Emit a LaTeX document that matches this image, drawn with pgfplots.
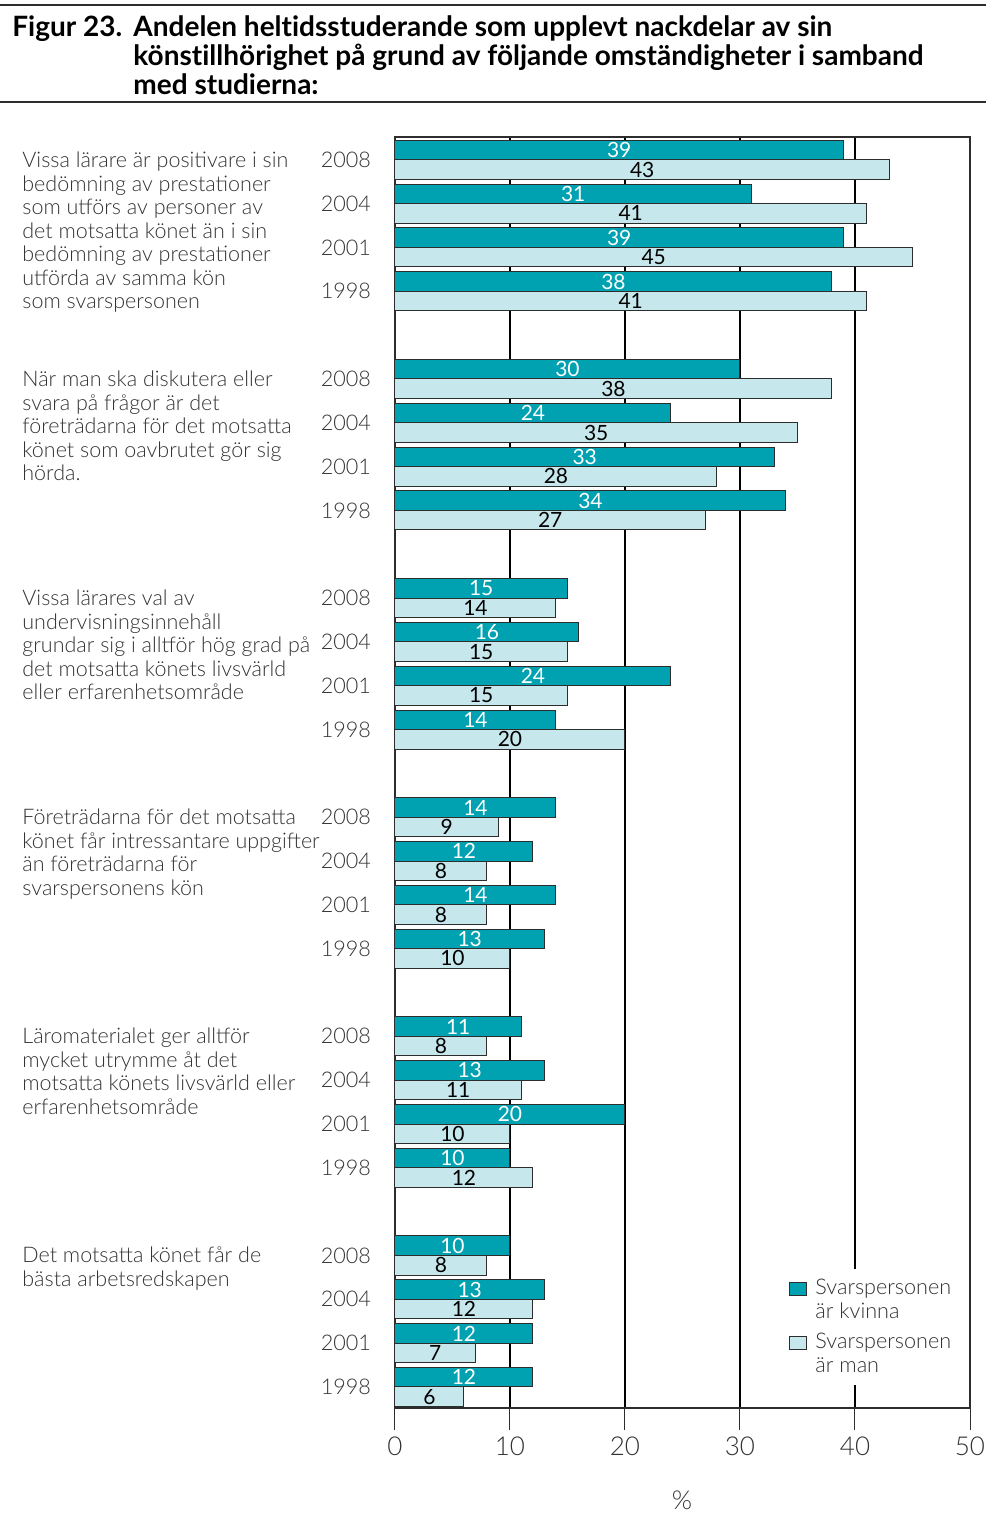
\documentclass[border=0pt]{standalone}
\usepackage{pgfplots}
\pgfplotsset{compat=1.18}
\usepackage{pgfplotstable}
\usepackage{fontspec}
\setmainfont{Lato}[Ligatures=NoCommon]
\newfontfamily\lightf{Lato Light}
\definecolor{kv}{RGB}{0,161,176}
\definecolor{mn}{RGB}{198,231,235}
\definecolor{bd}{RGB}{45,45,45}
\definecolor{tx}{RGB}{50,50,50}
\newcommand{\px}[2]{({(#1-395)*0.5pt},{(1408-#2)*0.5pt})}

\pgfplotstableread{
pos k m
0 39 43
1 31 41
2 39 45
3 38 41
5 30 38
6 24 35
7 33 28
8 34 27
10 15 14
11 16 15
12 24 15
13 14 20
15 14 9
16 12 8
17 14 8
18 13 10
20 11 8
21 13 11
22 20 10
23 10 12
25 10 8
26 13 12
27 12 7
28 12 6
}\data

\begin{document}
\begin{tikzpicture}
\useasboundingbox \px{0}{0} rectangle \px{986}{1522};
\begin{axis}[
  scale only axis,
  width=287.5pt, height=635.5pt,
  xmin=0, xmax=50,
  ymin=-0.52, ymax=28.48,
  y dir=reverse,
  clip=false,
  /pgf/number format/assume math mode=true,
  axis line style={bd, line width=1.1pt},
  xtick={0,10,20,30,40,50},
  xtick pos=bottom,
  tick align=outside,
  major tick length=11pt,
  xtick style={bd, line width=0.5pt},
  ytick style={draw=none},
  xmajorgrids,
  major grid style={black, line width=1pt},
  xticklabel style={font=\lightf\fontsize{13}{15}\selectfont, text=tx},
  ytick={0,1,2,3,5,6,7,8,10,11,12,13,15,16,17,18,20,21,22,23,25,26,27,28},
  yticklabels={2008,2004,2001,1998,2008,2004,2001,1998,2008,2004,2001,1998,2008,2004,2001,1998,2008,2004,2001,1998,2008,2004,2001,1998},
  yticklabel style={font=\lightf\fontsize{10.8}{13}\selectfont, text=tx, xshift=2.5pt},
  legend style={at={(axis cs:33.7,25.31)}, anchor=north west, draw=none, fill=white,
     font=\lightf\fontsize{10.8}{11.75}\selectfont, text=tx, cells={align=left, anchor=west},
     inner sep=3pt, row sep=2pt},
  legend image code/.code={\draw[#1] (0pt,2.6pt) rectangle (8.5pt,9.1pt); \path[draw=none, fill=none] (0pt,2.6pt) rectangle (11pt,9.1pt);},
]
\addplot[xbar, fill=kv, draw=bd, line width=0.5pt, bar width=0.445, bar shift=-0.2225] table[x=k, y=pos] {\data};
\addlegendentry{Svarspersonen\\är kvinna}
\addplot[xbar, fill=mn, draw=bd, line width=0.5pt, bar width=0.445, bar shift=0.2225] table[x=m, y=pos] {\data};
\addlegendentry{Svarspersonen\\är man}
\addplot[forget plot, draw=none, mark=none, nodes near coords, point meta=explicit,
  nodes near coords style={anchor=center, text=white, font=\fontsize{10.5}{12}\selectfont}]
  table[x expr=\thisrow{k}/2, y expr=\thisrow{pos}-0.2225, meta=k] {\data};
\addplot[forget plot, draw=none, mark=none, nodes near coords, point meta=explicit,
  nodes near coords style={anchor=center, text=black, font=\fontsize{10.5}{12}\selectfont}]
  table[x expr=\thisrow{m}/2, y expr=\thisrow{pos}+0.2225, meta=m] {\data};
\end{axis}
% title
\draw[bd, line width=1pt] \px{0}{5} -- \px{986}{5};
\draw[bd, line width=1pt] \px{0}{102} -- \px{986}{102};
\tikzset{ttl/.style={anchor=base west, inner sep=0, font=\bfseries\fontsize{14}{16}\selectfont}}
\node[ttl] at \px{12}{37} {Figur 23.};
\node[ttl] at \px{133}{37} {Andelen heltidsstuderande som upplevt nackdelar av sin};
\node[ttl] at \px{133}{66} {könstillhörighet på grund av följande omständigheter i samband};
\node[ttl] at \px{133}{95} {med studierna:};
% descriptions
\tikzset{desc/.style={anchor=north west, inner sep=0, align=left, text=tx, font=\lightf\fontsize{10.75}{11.75}\selectfont}}
\node[desc] at \px{22}{151.5} {Vissa lärare är positivare i sin\\bedömning av prestationer\\som utförs av personer av\\det motsatta könet än i sin\\bedömning av prestationer\\utförda av samma kön\\som svarspersonen};
\node[desc] at \px{22}{370.5} {När man ska diskutera eller\\svara på frågor är det\\företrädarna för det motsatta\\könet som oavbrutet gör sig\\hörda.};
\node[desc] at \px{22}{589.5} {Vissa lärares val av\\undervisningsinnehåll\\grundar sig i alltför hög grad på\\det motsatta könets livsvärld\\eller erfarenhetsområde};
\node[desc] at \px{22}{808.5} {Företrädarna för det motsatta\\könet får intressantare uppgifter\\än företrädarna för\\svarspersonens kön};
\node[desc] at \px{22}{1027.5} {Läromaterialet ger alltför\\mycket utrymme åt det\\motsatta könets livsvärld eller\\erfarenhetsområde};
\node[desc] at \px{22}{1246.5} {Det motsatta könet får de\\bästa arbetsredskapen};
\node[font=\lightf\fontsize{13}{15}\selectfont, text=tx] at \px{682}{1500} {\%};
\end{tikzpicture}
\end{document}
